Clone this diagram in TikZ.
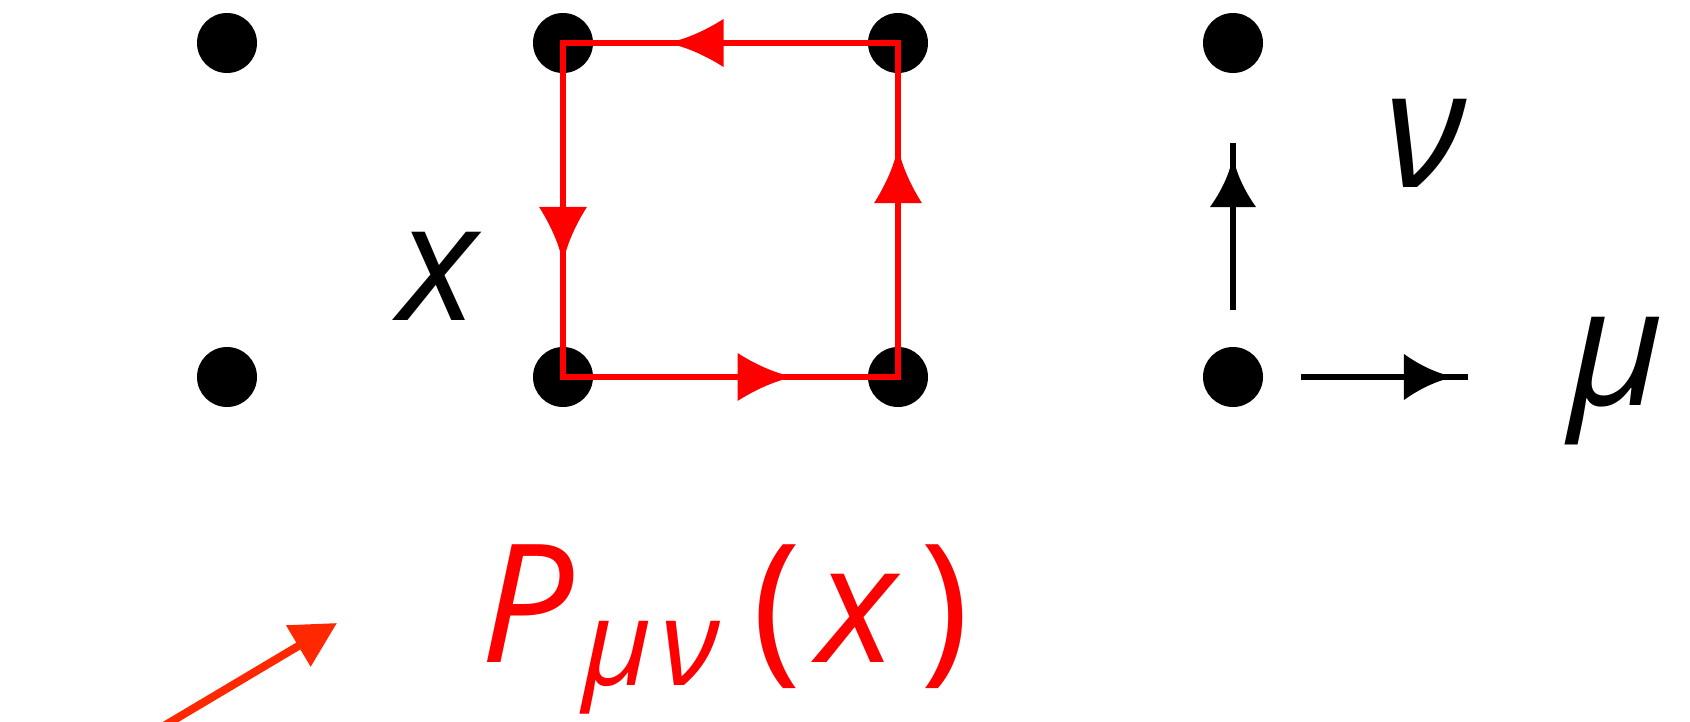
\documentclass[tikz,border=0pt]{standalone}
\usepackage{fontspec}
\setmainfont{Open Sans}
\usetikzlibrary{arrows.meta,decorations.markings}
\tikzset{
  dot/.style={circle,fill=black,minimum size=60pt,inner sep=0pt},
  redside/.style={draw=red,line width=6.5pt,line cap=rect,postaction={decorate},
    decoration={markings,mark=at position #1 with {\fill[red] (0,0) .. controls (-15,-1) and (-38,-10) .. (-60,-24) -- (-60,24) .. controls (-38,10) and (-15,1) .. cycle;}}},
  redside/.default=0.7,
  blackside/.style={draw=black,line width=5.5pt,postaction={decorate},
    decoration={markings,mark=at position 0.94 with {\fill[black] (0,0) .. controls (-15,-1) and (-36,-10) .. (-54,-23) -- (-54,23) .. controls (-36,10) and (-15,1) .. cycle;}}},
  lbl/.style={inner sep=0pt,font=\fontsize{165pt}{165pt}\selectfont\itshape},
}
\begin{document}
\begin{tikzpicture}[x=1pt,y=-1pt]
\useasboundingbox (0,0) rectangle (1690,721);
\clip (0,0) rectangle (1690,721);
% lattice points
\node[dot] (d11) at (227,43) {};
\node[dot] (d12) at (563,43) {};
\node[dot] (d13) at (898,43) {};
\node[dot] (d14) at (1233,43) {};
\node[dot] (d21) at (227,377) {};
\node[dot] (d22) at (563,377) {};
\node[dot] (d23) at (898,377) {};
\node[dot] (d24) at (1233,377) {};
% plaquette loop
\draw[redside] (d22.center) -- (d23.center);
\draw[redside] (d23.center) -- (d13.center);
\draw[redside] (d13.center) -- (d12.center);
\draw[redside=0.67] (d12.center) -- (d22.center);
% direction arrows
\coordinate (vs) at (1233,310);
\coordinate (ve) at (1233,143);
\coordinate (hs) at (1301,377);
\coordinate (he) at (1468,377);
\draw[blackside] (vs) -- (ve);
\draw[blackside] (hs) -- (he);
% labels
\node[lbl] (xl) at (438,276) {x};
\node[lbl] (nul) at (1425,143) {ν};
\node[lbl,anchor=base] (mul) at (1617,405) {μ};
\node[lbl,text=red,anchor=base west] (pl) at (480,662) {P\hspace{9pt}\raisebox{-23pt}{\fontsize{120pt}{120pt}\selectfont μ\hspace{8pt}ν}\hspace{33pt}{\upshape(}\hspace{16pt}x\hspace{24pt}{\upshape)}};
% pointer arrow
\coordinate (as) at (105,761);
\coordinate (ae) at (337,623);
\draw[draw={rgb,255:red,255;green,40;blue,0},line width=8pt,-{Triangle[length=45pt,width=46pt,fill={rgb,255:red,255;green,40;blue,0}]}] (as) -- (ae);
\end{tikzpicture}
\end{document}
